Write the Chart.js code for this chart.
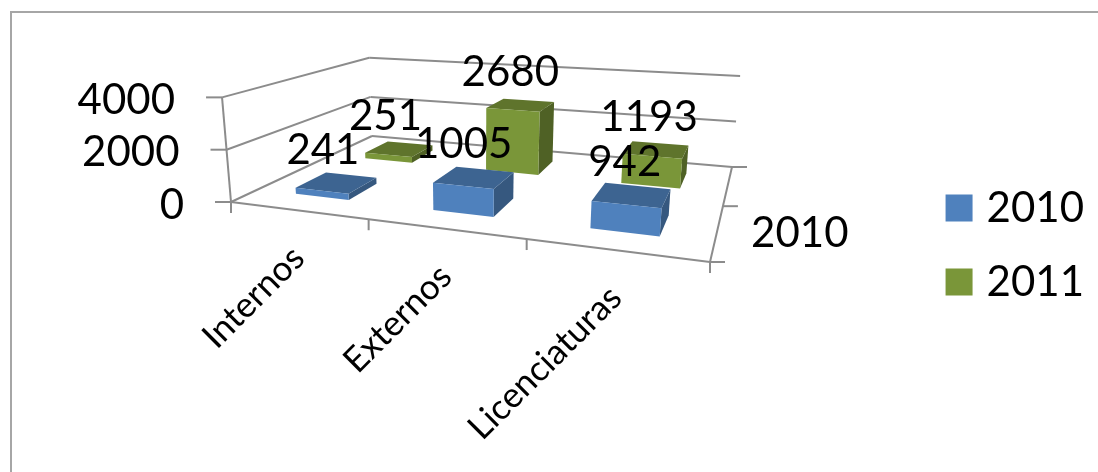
<!DOCTYPE html>
<html>
<head>
<meta charset="utf-8">
<title>2010 - 2011</title>
<script src="https://cdn.jsdelivr.net/npm/chart.js@4"></script>
<style>
  html, body { margin: 0; padding: 0; background: #fff; overflow: hidden; }
  #frame { position: absolute; left: 10px; top: 11px; right: 0; bottom: 0; border-top: 2px solid #a6a6a6; border-left: 2px solid #a6a6a6; }
  #wrap { position: absolute; left: 0; top: 0; width: 1098px; height: 472px; }
</style>
</head>
<body>
<div id="frame"></div>
<div id="wrap"><canvas id="chart"></canvas></div>
<script>
const categories = ['Internos', 'Externos', 'Licenciaturas'];
const seriesNames = ['2010', '2011'];
const values2010 = [241, 1005, 942];
const values2011 = [251, 2680, 1193];
const depthLabels = ['2010'];
const yTicks = [0, 2000, 4000];

const FONT = 'Lato, sans-serif';
const AXIS = '#8c8c8c';
const TEXT = '#000';

// face colours for each series: front, top, side
const faces = [
  { front: '#4f81bd', top: '#3d6491', side: '#36587f' },
  { front: '#7a9639', top: '#5f742c', side: '#4f6125' }
];

// floor corners in canvas space, where the verticals converge, and how tall
// the full value axis stands at the front-left corner
const floorQuad = [[231, 202], [710, 262], [732, 167], [372, 136]];
const verticalVanish = [475, 3053];
const axisHeight = 105;

// unit square -> quad homography
function quadMap(q) {
  const [[x0, y0], [x1, y1], [x2, y2], [x3, y3]] = q;
  const dx1 = x1 - x2, dx2 = x3 - x2, sx = x0 - x1 + x2 - x3;
  const dy1 = y1 - y2, dy2 = y3 - y2, sy = y0 - y1 + y2 - y3;
  const det = dx1 * dy2 - dx2 * dy1;
  const g = (sx * dy2 - dx2 * sy) / det;
  const h = (dx1 * sy - sx * dy1) / det;
  const a = x1 - x0 + g * x1, b = x3 - x0 + h * x3;
  const d = y1 - y0 + g * y1, e = y3 - y0 + h * y3;
  return (u, v) => {
    const w = g * u + h * v + 1;
    return [(a * u + b * v + x0) / w, (d * u + e * v + y0) / w, w];
  };
}
const floorAt = quadMap(floorQuad);

// u across the categories, v into the depth, t up the value axis (all 0..1)
function project(u, v, t) {
  const [fx, fy, w] = floorAt(u, v);
  const dx = verticalVanish[0] - fx, dy = verticalVanish[1] - fy;
  const len = Math.hypot(dx, dy);
  const rise = t * axisHeight / w;
  return [fx - dx / len * rise, fy - dy / len * rise];
}

function line(ctx, a, b, color, width) {
  ctx.strokeStyle = color;
  ctx.lineWidth = width;
  ctx.beginPath();
  ctx.moveTo(a[0], a[1]);
  ctx.lineTo(b[0], b[1]);
  ctx.stroke();
}

function poly(ctx, pts, color) {
  ctx.fillStyle = color;
  ctx.beginPath();
  pts.forEach((p, i) => (i ? ctx.lineTo(p[0], p[1]) : ctx.moveTo(p[0], p[1])));
  ctx.closePath();
  ctx.fill();
}

const scene3d = {
  id: 'scene3d',

  // walls, floor edges, ticks and axis labels
  beforeDatasetsDraw(chart) {
    const { ctx, scales: { x, y } } = chart;
    ctx.save();
    ctx.lineCap = 'butt';
    y.ticks.forEach((tick) => {
      const t = (y.bottom - y.getPixelForValue(tick.value)) / y.height;
      const front = project(0, 0, t), back = project(0, 1, t), end = project(1, 1, t);
      line(ctx, front, back, AXIS, 2);
      line(ctx, back, end, AXIS, 2);
      line(ctx, [front[0] - 16, front[1]], front, AXIS, 2);
      ctx.fillStyle = TEXT;
      ctx.font = '42px ' + FONT;
      ctx.textAlign = 'right';
      ctx.textBaseline = 'middle';
      ctx.fillText(String(tick.value), front[0] - 47, front[1] + 3);
    });
    line(ctx, project(0, 0, 0), project(0, 0, 1), AXIS, 2);
    line(ctx, project(0, 0, 0), project(1, 0, 0), AXIS, 2);
    line(ctx, project(1, 0, 0), project(1, 1, 0), AXIS, 2);

    // category ticks along the front edge
    for (let i = 0; i <= categories.length; i++) {
      const p = project(i / categories.length, 0, 0);
      line(ctx, p, [p[0], p[1] + 11], AXIS, 2);
    }
    x.ticks.forEach((tick, i) => {
      const p = project((x.getPixelForTick(i) - x.left) / x.width, 0, 0);
      ctx.save();
      ctx.translate(p[0] + 1, p[1] + 42);
      ctx.rotate(-Math.PI / 4);
      ctx.fillStyle = TEXT;
      ctx.font = '35px ' + FONT;
      ctx.textAlign = 'right';
      ctx.textBaseline = 'middle';
      ctx.fillText(categories[i], 0, 0);
      ctx.restore();
    });

    // depth axis: ticks on the right floor edge, one label per shown row
    for (let i = 0; i <= seriesNames.length; i++) {
      const p = project(1, i / seriesNames.length, 0);
      line(ctx, p, [p[0] + 15, p[1]], AXIS, 2);
    }
    depthLabels.forEach((label, i) => {
      const p = project(1, (i + 0.5) / seriesNames.length, 0);
      ctx.fillStyle = TEXT;
      ctx.font = '42px ' + FONT;
      ctx.textAlign = 'left';
      ctx.textBaseline = 'middle';
      ctx.fillText(label, p[0] + 34, p[1] + 2);
    });
    ctx.restore();
  },

  // the stock rectangles are replaced by boxes
  beforeDatasetDraw() {
    return false;
  },

  afterDatasetsDraw(chart) {
    const { ctx, scales: { x, y } } = chart;
    const rows = chart.data.datasets.length;
    const rowDepth = chart.options.datasets.bar.barPercentage / rows;
    const toU = (px) => (px - x.left) / x.width;
    const toT = (py) => (y.bottom - py) / y.height;
    const labels = [];

    ctx.save();
    // back row first so the front row sits over it
    for (let ds = rows - 1; ds >= 0; ds--) {
      const meta = chart.getDatasetMeta(ds);
      const c = faces[ds];
      const v0 = (ds + 0.5) / rows - rowDepth / 2;
      const v1 = v0 + rowDepth;
      meta.data.forEach((bar, i) => {
        const props = bar.getProps(['x', 'y', 'base', 'width'], true);
        const u0 = toU(props.x - props.width / 2), u1 = toU(props.x + props.width / 2);
        const t0 = toT(props.base), t1 = toT(props.y);
        poly(ctx, [project(u1, v0, t0), project(u1, v1, t0), project(u1, v1, t1), project(u1, v0, t1)], c.side);
        poly(ctx, [project(u0, v0, t1), project(u1, v0, t1), project(u1, v1, t1), project(u0, v1, t1)], c.top);
        poly(ctx, [project(u0, v0, t0), project(u1, v0, t0), project(u1, v0, t1), project(u0, v0, t1)], c.front);
        const uMid = (u0 + u1) / 2;
        const mid = project(uMid, (v0 + v1) / 2, t1);
        // labels sit up and to the left of the box, less so towards the right
        labels.push({ text: String(chart.data.datasets[ds].data[i]), x: mid[0] - 15.5 + 10 * uMid, y: mid[1] - 32.5 });
      });
    }

    // value labels go on last, above every box
    ctx.fillStyle = TEXT;
    ctx.font = '42px ' + FONT;
    ctx.textAlign = 'center';
    ctx.textBaseline = 'middle';
    labels.forEach((l) => ctx.fillText(l.text, l.x, l.y));
    ctx.restore();
  }
};

new Chart(document.getElementById('chart'), {
  type: 'bar',
  data: {
    labels: categories,
    datasets: [
      { label: seriesNames[0], data: values2010, backgroundColor: faces[0].front },
      { label: seriesNames[1], data: values2011, backgroundColor: faces[1].front }
    ]
  },
  options: {
    responsive: true,
    maintainAspectRatio: false,
    animation: false,
    layout: { padding: { top: 18, right: 4 } },
    datasets: { bar: { grouped: false, barPercentage: 0.4, categoryPercentage: 1 } },
    scales: {
      x: { display: false },
      y: {
        display: false,
        min: yTicks[0],
        max: yTicks[yTicks.length - 1],
        ticks: { stepSize: 2000 }
      }
    },
    plugins: {
      tooltip: { enabled: false },
      legend: {
        position: 'right',
        labels: {
          // a thick same-coloured outline keeps the swatch 27px while the text sits close to it
          boxWidth: 13,
          boxHeight: 13,
          padding: 32,
          color: TEXT,
          font: { family: FONT, size: 42 },
          generateLabels: (chart) => Chart.defaults.plugins.legend.labels.generateLabels(chart)
            .map((item) => ({ ...item, strokeStyle: item.fillStyle, lineWidth: 14 }))
        }
      }
    }
  },
  plugins: [scene3d]
});
</script>
</body>
</html>
